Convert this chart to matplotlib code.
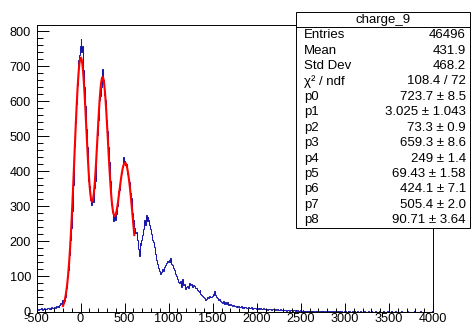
import numpy as np
import matplotlib
matplotlib.use("Agg")
import matplotlib.pyplot as plt
from matplotlib.patches import Rectangle
from matplotlib.lines import Line2D
from matplotlib.ticker import MultipleLocator

plt.rcParams['font.family'] = ['Liberation Sans', 'DejaVu Sans']
plt.rcParams['axes.unicode_minus'] = False

# histogram binning: 450 bins of width 10 from -500 to 4000
x_min, x_max, n_bins = -500, 4000, 450

# bin contents, one line per 100 units
counts = [
    4, 7, 5, 8, 6, 9, 5, 7, 10, 6,              # -500
    8, 6, 9, 11, 7, 10, 8, 12, 9, 11,           # -400
    13, 10, 15, 12, 17, 14, 19, 24, 22, 34,     # -300
    24, 30, 41, 55, 68, 99, 118, 162, 205, 238,  # -200
    288, 360, 405, 472, 538, 592, 648, 718, 731, 758,  # -100
    778, 742, 757, 690, 640, 588, 520, 470, 431, 372,  # 0
    358, 318, 305, 322, 312, 352, 372, 428, 470, 505,  # 100
    548, 604, 615, 640, 692, 672, 660, 618, 605, 548,  # 200
    515, 470, 428, 372, 345, 305, 285, 258, 278, 262,  # 300
    278, 300, 322, 345, 348, 380, 395, 412, 440, 428,  # 400
    430, 418, 422, 392, 378, 370, 338, 325, 282, 268,  # 500
    262, 238, 225, 228, 205, 178, 158, 196, 190, 205,  # 600
    218, 235, 262, 248, 275, 258, 270, 262, 248, 235,  # 700
    222, 205, 198, 184, 182, 165, 148, 135, 125, 116,  # 800
    108, 112, 118, 122, 115, 128, 132, 138, 145, 142,  # 900
    148, 140, 152, 136, 134, 125, 118, 108, 100, 96,   # 1000
    92, 84, 80, 88, 70, 92, 75, 78, 68, 64,      # 1100
    70, 72, 68, 80, 75, 78, 74, 70, 76, 72,      # 1200
    66, 68, 62, 58, 55, 60, 50, 48, 45, 42,      # 1300
    38, 34, 36, 40, 42, 38, 44, 40, 42, 45,      # 1400
    50, 46, 58, 48, 42, 38, 33, 35, 30, 28,      # 1500
    27, 24, 30, 22, 26, 20, 28, 18, 22, 19,      # 1600
    20, 18, 16, 19, 15, 17, 14, 16, 13, 15,      # 1700
    14, 12, 15, 11, 13, 10, 12, 14, 9, 11,       # 1800
    12, 10, 9, 11, 13, 8, 10, 9, 11, 8,          # 1900
    9, 7, 10, 8, 9, 6, 8, 10, 7, 6,              # 2000
    7, 8, 5, 7, 6, 8, 5, 6, 7, 4,                # 2100
    5, 6, 4, 7, 5, 3, 6, 4, 5, 3,                # 2200
    4, 3, 5, 2, 4, 3, 4, 2, 3, 4,                # 2300
    2, 3, 4, 2, 3, 1, 3, 2, 2, 3,                # 2400
    2, 1, 3, 2, 1, 2, 2, 1, 2, 1,                # 2500
    1, 2, 1, 1, 2, 0, 1, 2, 1, 1,                # 2600
    1, 0, 1, 2, 1, 1, 0, 1, 1, 0,                # 2700
    1, 1, 0, 1, 0, 2, 1, 0, 1, 0,                # 2800
    0, 1, 1, 0, 1, 0, 1, 0, 0, 1,                # 2900
    1, 0, 0, 1, 0, 1, 0, 0, 1, 0,                # 3000
    0, 1, 0, 0, 1, 0, 0, 1, 0, 0,                # 3100
    0, 0, 1, 0, 0, 0, 1, 0, 0, 0,                # 3200
    1, 0, 0, 0, 1, 0, 0, 0, 0, 1,                # 3300
    0, 0, 0, 1, 0, 0, 0, 0, 1, 0,                # 3400
    0, 0, 1, 0, 0, 0, 0, 1, 0, 0,                # 3500
    0, 0, 0, 0, 1, 0, 0, 0, 0, 0,                # 3600
    0, 1, 0, 0, 0, 0, 0, 0, 1, 0,                # 3700
    0, 0, 0, 0, 0, 1, 0, 0, 0, 0,                # 3800
    0, 0, 0, 0, 0, 0, 0, 0, 0, 1,                # 3900
]

# fit: sum of three gaussians, parameters from the stats box
fit_params = [723.7, 3.025, 73.3, 659.3, 249, 69.43, 424.1, 505.4, 90.71]
fit_range = (-200, 610)

stats_title = 'charge_9'
stats_labels = ['Entries', 'Mean', 'Std Dev', 'χ² / ndf',
                'p0', 'p1', 'p2', 'p3', 'p4', 'p5', 'p6', 'p7', 'p8']
stats_values = ['46496', '431.9', '468.2', '108.4 / 72',
                '723.7 ± 8.5', '3.025 ± 1.043', '73.3 ± 0.9',
                '659.3 ± 8.6', '249 ± 1.4', '69.43 ± 1.58',
                '424.1 ± 7.1', '505.4 ± 2.0', '90.71 ± 3.64']


def three_gaus(x, p):
    y = np.zeros_like(x)
    for i in range(0, 9, 3):
        y += p[i] * np.exp(-0.5 * ((x - p[i + 1]) / p[i + 2]) ** 2)
    return y


W, H = 471, 325
fig = plt.figure(figsize=(W / 100, H / 100), dpi=100)
ax = fig.add_axes([36.5 / W, 13.5 / H, (433 - 36.5) / W, (311.5 - 25) / H])

edges = np.linspace(x_min, x_max, n_bins + 1)
assert len(counts) == n_bins
ax.stairs(counts, edges, color='#1a1aa8', lw=0.75)

xf = np.linspace(fit_range[0], fit_range[1], 100)
ax.plot(xf, three_gaus(xf, fit_params), color='red', lw=1.5)

ax.set_xlim(x_min, x_max)
ax.set_ylim(0, 818)
ax.xaxis.set_major_locator(MultipleLocator(500))
ax.xaxis.set_minor_locator(MultipleLocator(100))
ax.yaxis.set_major_locator(MultipleLocator(100))
ax.yaxis.set_minor_locator(MultipleLocator(20))
ax.tick_params(which='both', direction='in', top=False, right=False,
               labelsize=9.2, width=0.7)
ax.tick_params(axis='x', which='major', length=6.2, pad=1.0)
ax.tick_params(axis='x', which='minor', length=3.1)
ax.tick_params(axis='y', which='major', length=8.6, pad=4)
ax.tick_params(axis='y', which='minor', length=4.3)
for s in ax.spines.values():
    s.set_linewidth(0.7)

# stats box
bx0, bx1 = 296 / W, 470 / W
by_top, by_bot = 1 - 12 / H, 1 - 228 / H
row_h = (by_top - by_bot) / 14
fig.add_artist(Rectangle((bx0, by_bot), bx1 - bx0, by_top - by_bot,
                         transform=fig.transFigure, facecolor='white',
                         edgecolor='black', lw=0.7, zorder=5))
fig.add_artist(Line2D([bx0, bx1], [by_top - row_h] * 2, transform=fig.transFigure,
                      color='black', lw=0.7, zorder=6))
fig.text((bx0 + bx1) / 2, by_top - row_h / 2, stats_title, ha='center',
         va='center', fontsize=9.5, zorder=7)
for i, (lab, val) in enumerate(zip(stats_labels, stats_values)):
    yc = by_top - row_h * (i + 1.5)
    fig.text(bx0 + 8 / W, yc, lab, ha='left', va='center', fontsize=9.5, zorder=7)
    fig.text(bx1 - 4 / W, yc, val, ha='right', va='center', fontsize=9.5, zorder=7)

fig.savefig('out.png', dpi=100)
